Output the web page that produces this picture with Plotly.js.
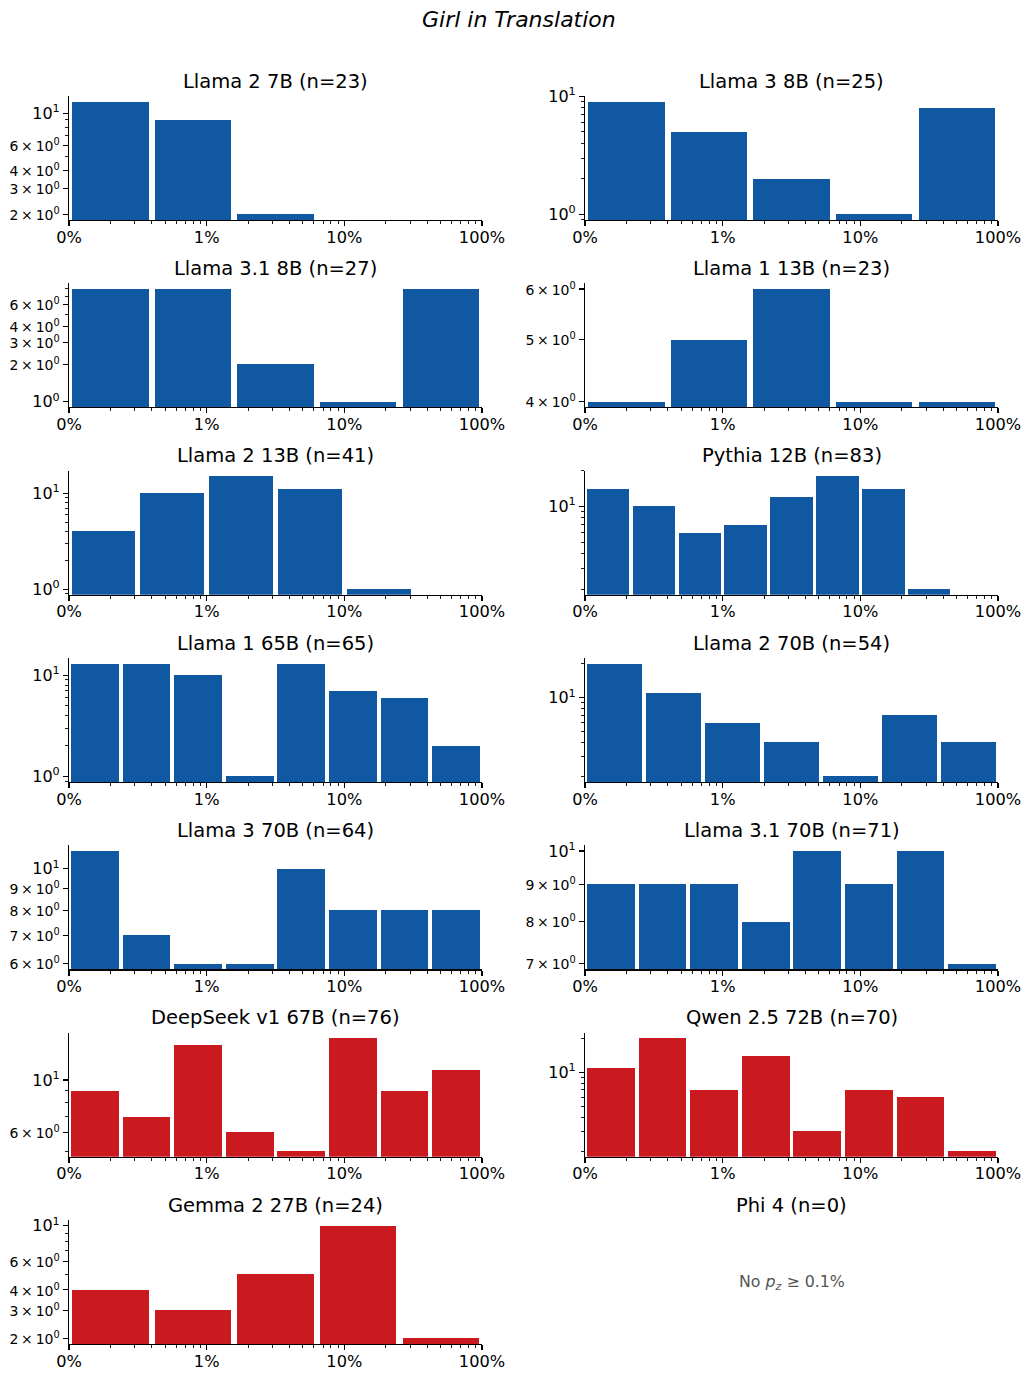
<!DOCTYPE html>
<html><head><meta charset="utf-8">
<script src="https://cdn.plot.ly/plotly-3.0.1.min.js"></script>
<style>html,body{margin:0;padding:0;background:#fff}#chart{width:1032px;height:1378px}</style>
</head><body><div id="chart"></div>
<script>
// ---------- data ----------
const figureTitle = "Girl in Translation";
const modelNames = ["Llama 2 7B","Llama 3 8B","Llama 3.1 8B","Llama 1 13B","Llama 2 13B","Pythia 12B",
  "Llama 1 65B","Llama 2 70B","Llama 3 70B","Llama 3.1 70B","DeepSeek v1 67B","Qwen 2.5 72B","Gemma 2 27B","Phi 4"];
const sampleSizes = [23,25,27,23,41,83,65,54,64,71,76,70,24,0];
// histogram counts per log-spaced bin (0.1% .. 100%)
const countsLlama2_7B   = [12,9,2,0,0];
const countsLlama3_8B   = [9,5,2,1,8];
const countsLlama31_8B  = [8,8,2,1,8];
const countsLlama1_13B  = [4,5,6,4,4];
const countsLlama2_13B  = [4,10,15,11,1,0];
const countsPythia12B   = [14,10,6,7,12,18,14,2,0];
const countsLlama1_65B  = [13,13,10,1,13,7,6,2];
const countsLlama2_70B  = [20,11,6,4,2,7,4];
const countsLlama3_70B  = [11,7,6,6,10,8,8,8];
const countsLlama31_70B = [9,9,9,8,10,9,10,7];
const countsDeepSeek67B = [9,7,14,6,5,15,9,11];
const countsQwen25_72B  = [11,20,7,14,3,7,6,2];
const countsGemma2_27B  = [4,3,5,10,2];
const countsPhi4        = [];
const allCounts = [countsLlama2_7B,countsLlama3_8B,countsLlama31_8B,countsLlama1_13B,countsLlama2_13B,
  countsPythia12B,countsLlama1_65B,countsLlama2_70B,countsLlama3_70B,countsLlama31_70B,
  countsDeepSeek67B,countsQwen25_72B,countsGemma2_27B,countsPhi4];
const redModels = ["DeepSeek v1 67B","Qwen 2.5 72B","Gemma 2 27B"];
const xTickPercent = [0.1,1,10,100];
const xTickLabels = ["0%","1%","10%","100%"];
const emptyNote = "No <i>p</i><sub><i>z</i></sub> \u2265 0.1%";

// ---------- layout constants ----------
const W = 1032, H = 1378;
const FONT = "DejaVu Sans, sans-serif";
const BLUE = "#1058a1", RED = "#ca1a1f";
const colX = [[69,482],[585,998]];
const rowTop0 = 96, rowStep = 187.35, plotH = 124;
const xMin = Math.log10(xTickPercent[0]), xMax = Math.log10(xTickPercent[xTickPercent.length-1]);

const minorX = [];
for (let k = -1; k < 2; k++) for (let m = 2; m <= 9; m++) minorX.push(Math.log10(m*Math.pow(10,k)));

const traces = [];
const layout = {
  width: W, height: H, margin:{l:0,r:0,t:0,b:0},
  paper_bgcolor:"#fff", plot_bgcolor:"#fff", showlegend:false,
  font:{family:FONT, color:"#000"},
  annotations: [], bargap:0
};
layout.annotations.push({text:"<i>"+figureTitle+"</i>", xref:"paper", yref:"paper",
  x:518.5/W, y:1-20/H, xanchor:"center", yanchor:"middle", showarrow:false,
  font:{family:FONT,size:22,color:"#000"}});

modelNames.forEach((name, i) => {
  const row = Math.floor(i/2), col = i%2;
  const top = rowTop0 + rowStep*row, bottom = top + plotH;
  const [x0,x1] = colX[col];
  layout.annotations.push({text:name+" (n="+sampleSizes[i]+")", xref:"paper", yref:"paper",
    x:(x0+x1)/2/W, y:1-(top-15)/H, xanchor:"center", yanchor:"middle", showarrow:false,
    font:{family:FONT,size:19.5,color:"#000"}});
  const counts = allCounts[i];
  if (counts.length === 0) {
    layout.annotations.push({text:emptyNote, xref:"paper", yref:"paper",
      x:(x0+x1)/2/W, y:1-((top+bottom)/2)/H, xanchor:"center", yanchor:"middle", showarrow:false,
      font:{family:FONT,size:15.8,color:"#555555"}});
    return;
  }
  const idx = i+1, sfx = idx===1 ? "" : String(idx);
  const n = counts.length, bw = (xMax-xMin)/n;
  const xs = counts.map((_,j)=> xMin + bw*(j+0.5));
  const ws = counts.map(()=> bw*0.925);
  traces.push({type:"bar", x:xs, y:counts.map(c=> c>0 ? c : null), width:ws,
    marker:{color: redModels.includes(name) ? RED : BLUE, line:{width:0}},
    xaxis:"x"+sfx, yaxis:"y"+sfx, hoverinfo:"skip", showlegend:false});
  // y range like matplotlib autoscale on log axis (5% margins)
  const pos = counts.filter(c=>c>0);
  const lo = Math.log10(Math.min(...pos)), hi = Math.log10(Math.max(...pos));
  const span = hi-lo;
  const r0 = lo-0.05*span, r1 = hi+0.05*span, numdec = r1-r0;
  const tv=[], tt=[], mv=[];
  for (let k=Math.floor(r0); k<=Math.ceil(r1); k++) {
    for (let m=1; m<=9; m++) {
      const v = m*Math.pow(10,k), lv = Math.log10(v);
      if (lv < r0-1e-9 || lv > r1+1e-9) continue;
      let labeled = (m===1) || numdec<=0.4 || (numdec<=1 && [2,3,4,6].includes(m));
      if (labeled) {
        tv.push(v);
        tt.push(m===1 ? "10<sup>"+k+"</sup>" :
          "<span style='font-size:14px'>"+m+"\u2009\u00d7\u200910<sup>"+k+"</sup></span>");
      } else mv.push(v);
    }
  }
  layout["xaxis"+sfx] = {domain:[x0/W,x1/W], anchor:"y"+sfx, range:[xMin,xMax],
    tickmode:"array", tickvals:xTickPercent.map(Math.log10), ticktext:xTickLabels,
    ticks:"outside", ticklen:5, tickwidth:1.1, tickcolor:"#000", ticklabelstandoff:-3,
    minor:{tickmode:"array", tickvals:minorX, ticks:"outside", ticklen:3, tickwidth:0.9, tickcolor:"#000"},
    showline:true, linecolor:"#000", linewidth:1.1, showgrid:false, zeroline:false,
    tickfont:{family:FONT,size:16.2,color:"#000"}, fixedrange:true};
  layout["yaxis"+sfx] = {domain:[1-bottom/H, 1-top/H], anchor:"x"+sfx, type:"log", range:[r0,r1],
    tickmode:"array", tickvals:tv, ticktext:tt,
    ticks:"outside", ticklen:5, tickwidth:1.1, tickcolor:"#000",
    minor:{tickmode:"array", tickvals:mv, ticks:"outside", ticklen:3, tickwidth:0.9, tickcolor:"#000"},
    showline:true, linecolor:"#000", linewidth:1.1, showgrid:false, zeroline:false,
    tickfont:{family:FONT,size:16,color:"#000"}, fixedrange:true};
});

Plotly.newPlot("chart", traces, layout, {staticPlot:true, displayModeBar:false});
</script>
</body></html>
